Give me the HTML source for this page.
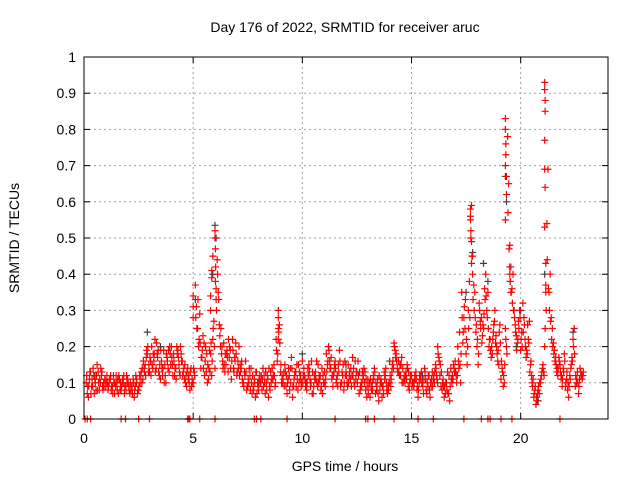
<!DOCTYPE html>
<html><head><meta charset="utf-8"><style>
html,body{margin:0;padding:0;background:#fff}
svg{display:block;font-family:"Liberation Sans",sans-serif}
</style></head><body>
<svg id="chart" width="640" height="480" viewBox="0 0 640 480">
<text x="345" y="32" text-anchor="middle" font-size="14">Day 176 of 2022, SRMTID for receiver aruc</text>
<text x="345" y="471" text-anchor="middle" font-size="14">GPS time / hours</text>
<text transform="translate(19,238) rotate(-90)" text-anchor="middle" font-size="14">SRMTID / TECUs</text>
<g id="grid"></g><g id="ticks"></g><g id="marks"></g>
<rect x="84" y="57" width="524" height="362" fill="none" stroke="#000" stroke-width="1"/>
</svg>
<script>
const xTicks=[0,5,10,15,20];
const yTicks=[0,0.1,0.2,0.3,0.4,0.5,0.6,0.7,0.8,0.9,1];
const yTickLabels=["0","0.1","0.2","0.3","0.4","0.5","0.6","0.7","0.8","0.9","1"];
const redAStart=0.1, redBStart=0.15, redCStart=0.12, redDStart=0.17, sampleStep=0.1;
const redA=[.10,.06,.13,.09,.11,.15,.08,.12,.10,.09,
.08,.11,.09,.07,.10,.12,.08,.10,.09,.11,
.07,.09,.06,.10,.08,.12,.11,.15,.18,.13,
.20,.16,.14,.19,.11,.12,.15,.17,.13,.20,
.18,.14,.19,.12,.16,.11,.09,.12,.14,.10,
.37,.25,.29,.17,.21,.13,.11,.18,.22,.14,
.44,.26,.18,.21,.15,.13,.19,.22,.17,.12,
.20,.14,.10,.16,.09,.12,.07,.11,.13,.08,
.10,.14,.07,.12,.09,.11,.15,.22,.30,.13,
.10,.15,.07,.12,.17,.09,.13,.08,.11,.16,
.12,.08,.15,.10,.07,.13,.09,.11,.14,.10,
.18,.20,.14,.09,.16,.12,.19,.10,.08,.13,
.15,.11,.17,.09,.13,.07,.10,.12,.08,.11,
.06,.10,.14,.08,.05,.11,.09,.12,.07,.10,
.13,.21,.18,.16,.12,.14,.10,.15,.08,.12,
.09,.13,.06,.11,.10,.14,.07,.12,.09,.11,
.15,.20,.12,.08,.06,.10,.07,.14,.11,.16,
.12,.24,.35,.28,.18,.30,.55,.45,.35,.20,
.32,.28,.25,.40,.35,.22,.18,.27,.20,.15,
.11,.09,.25,.78,.48,.36,.30,.23,.27,.19,
.32,.22,.18,.27,.12,.06,.04,.08,.10,.14,
.20,.54,.35,.28,.21,.17,.12,.15,.09,.18,
.11,.06,.14,.22,.09,.13,.11,.12];
const redB=[.07,.11,.09,.12,.08,.13,.10,.09,.11,.12,
.10,.08,.12,.09,.11,.08,.10,.07,.12,.09,
.08,.11,.09,.07,.12,.10,.14,.17,.13,.16,
.14,.22,.18,.12,.16,.19,.10,.14,.18,.15,
.12,.20,.15,.18,.13,.10,.14,.08,.11,.13,
.31,.20,.14,.23,.16,.10,.19,.12,.27,.33,
.35,.20,.16,.13,.19,.17,.11,.14,.21,.16,
.15,.11,.13,.08,.10,.14,.09,.06,.10,.12,
.08,.12,.10,.06,.13,.11,.09,.16,.26,.10,
.13,.09,.11,.14,.06,.12,.15,.10,.09,.12,
.09,.14,.11,.07,.12,.16,.10,.08,.12,.09,
.15,.16,.11,.13,.10,.15,.09,.12,.16,.10,
.12,.09,.14,.11,.16,.08,.13,.10,.06,.09,
.09,.12,.07,.11,.08,.06,.13,.10,.08,.09,
.16,.19,.14,.12,.17,.11,.13,.09,.12,.10,
.12,.08,.10,.13,.07,.11,.09,.06,.13,.10,
.12,.17,.09,.11,.07,.13,.05,.10,.14,.12,
.16,.10,.21,.25,.15,.38,.59,.37,.24,.15,
.27,.23,.36,.30,.20,.17,.24,.21,.16,.26,
.14,.10,.20,.65,.42,.40,.26,.21,.30,.24,
.28,.17,.22,.15,.09,.08,.05,.07,.12,.13,
.37,.69,.40,.25,.19,.13,.17,.11,.14,.09,
.08,.12,.17,.25,.10,.07,.13,.12];
const redC=[.12,.09,.07,.14,.10,.08,.11,.13,.09,.10,
.09,.12,.07,.10,.08,.11,.09,.12,.08,.10,
.10,.07,.08,.11,.09,.13,.16,.12,.20,.17,
.15,.18,.21,.13,.19,.14,.12,.16,.20,.17,
.16,.11,.17,.20,.12,.15,.13,.10,.09,.14,
.28,.33,.21,.19,.12,.18,.14,.21,.25,.38,
.40,.23,.20,.15,.18,.22,.14,.19,.16,.13,
.12,.16,.09,.13,.11,.08,.12,.10,.07,.11,
.12,.09,.13,.11,.08,.14,.12,.19,.24,.15,
.11,.13,.10,.08,.14,.11,.09,.15,.12,.10,
.11,.10,.13,.16,.09,.11,.15,.12,.07,.13,
.13,.19,.17,.12,.14,.09,.16,.13,.10,.12,
.10,.14,.12,.16,.10,.13,.09,.14,.11,.07,
.11,.08,.13,.09,.12,.10,.07,.14,.09,.12,
.15,.20,.16,.13,.15,.10,.12,.14,.10,.09,
.10,.11,.08,.12,.09,.13,.10,.08,.11,.12,
.14,.18,.15,.10,.09,.08,.12,.11,.15,.13,
.20,.15,.28,.31,.22,.25,.50,.33,.28,.22,
.30,.21,.29,.34,.25,.19,.22,.30,.18,.24,
.16,.12,.22,.57,.38,.32,.28,.19,.25,.22,
.24,.20,.26,.13,.10,.07,.06,.09,.11,.15,
.25,.44,.30,.22,.18,.15,.14,.13,.11,.16,
.13,.09,.15,.20,.12,.10,.14,.11];
const redD=[.09,.13,.11,.07,.12,.10,.14,.08,.11,.10,
.11,.09,.10,.12,.07,.10,.11,.09,.10,.08,
.09,.10,.12,.08,.10,.14,.13,.19,.15,.12,
.18,.13,.17,.15,.14,.10,.18,.19,.15,.12,
.14,.18,.13,.16,.14,.12,.11,.13,.10,.12,
.25,.22,.17,.14,.20,.15,.13,.16,.20,.30,
.33,.25,.14,.18,.17,.20,.16,.13,.18,.14,
.13,.10,.12,.09,.14,.10,.08,.13,.09,.10,
.11,.10,.08,.14,.10,.12,.10,.18,.21,.12,
.09,.12,.14,.10,.09,.13,.11,.13,.10,.14,
.10,.12,.09,.13,.11,.10,.12,.09,.10,.11,
.16,.14,.12,.15,.11,.13,.10,.15,.12,.09,
.13,.12,.10,.13,.12,.09,.11,.13,.09,.10,
.08,.11,.10,.07,.10,.09,.11,.08,.10,.11,
.14,.17,.13,.15,.10,.12,.11,.13,.11,.10,
.11,.09,.12,.10,.11,.08,.12,.10,.09,.13,
.11,.16,.13,.09,.10,.07,.09,.12,.13,.10,
.14,.18,.24,.33,.20,.28,.45,.30,.26,.18,
.25,.26,.33,.28,.22,.20,.26,.23,.19,.21,
.13,.15,.18,.47,.35,.30,.24,.22,.28,.20,
.26,.19,.21,.16,.11,.09,.07,.10,.13,.12,
.30,.36,.27,.20,.16,.14,.16,.12,.13,.10,
.10,.11,.16,.18,.11,.09,.12,.13];
const spikeT=[5.0,5.0,5.0,5.8,5.8,5.85,5.85,5.9,6.0,6.0,6.02,6.03,6.05,8.9,8.9,8.9,17.7,17.7,17.72,17.75,17.75,17.8,19.3,19.3,19.32,19.32,19.3,19.35,19.35,19.3,19.5,19.5,19.52,19.55,21.1,21.1,21.12,21.12,21.1,21.1,21.12,21.1,21.15,21.15];
const spikeV=[.34,.31,.28,.30,.34,.39,.41,.45,.52,.50,.47,.42,.36,.28,.25,.22,.58,.56,.52,.49,.43,.40,.83,.80,.76,.73,.70,.67,.62,.55,.42,.40,.38,.35,.93,.91,.88,.85,.77,.69,.64,.53,.43,.35];
const blackT=[0.5,2.9,3.5,5.1,5.9,6.0,6.05,8.0,10.0,12.0,14.0,15.5,16.2,17.5,17.8,18.3,18.5,19.3,19.35,19.8,20.0,20.8,21.1,22.4];
const blackV=[.12,.24,.20,.33,.40,.535,.50,.10,.18,.15,.16,.12,.10,.35,.46,.43,.38,.67,.60,.20,.30,.05,.40,.24];
const zeroT=[0.05,0.15,0.3,1.7,1.9,2.5,3.0,4.75,4.8,4.85,5.3,6.0,7.8,7.9,8.1,9.3,11.5,12.9,13.0,13.3,14.2,15.3,16.0,17.4,18.2,18.5,18.6,19.1,19.6,21.8];

const X0=84,X1=608,Y0=419,Y1=57,XMAX=24,YMAX=1;
const xs=t=>X0+(X1-X0)*t/XMAX;
const ys=v=>Y0-(Y0-Y1)*v/YMAX;
const NS="http://www.w3.org/2000/svg";
function mk(tag,attrs,parent){const e=document.createElementNS(NS,tag);for(const k in attrs)e.setAttribute(k,attrs[k]);parent.appendChild(e);return e;}
const grid=document.getElementById('grid'),ticks=document.getElementById('ticks'),marks=document.getElementById('marks');
yTicks.forEach((v,i)=>{
  const y=ys(v);
  if(i>0&&i<yTicks.length-1){const g=mk('line',{x1:X0,x2:X1,y1:y,y2:y,stroke:'#a0a0a0','stroke-dasharray':'2,3'},grid);
  
  }
  mk('line',{x1:X0,x2:X0+6,y1:y,y2:y,stroke:'#000'},ticks);
  mk('line',{x1:X1-6,x2:X1,y1:y,y2:y,stroke:'#000'},ticks);
  const t=mk('text',{x:X0-8,y:y+5,'text-anchor':'end','font-size':'14'},ticks);
  t.textContent=yTickLabels[i];
  
  
});
xTicks.forEach(h=>{
  const x=xs(h);
  if(h>0){const g=mk('line',{x1:x,x2:x,y1:Y0,y2:Y1,stroke:'#a0a0a0','stroke-dasharray':'2,3'},grid);
  
  }
  mk('line',{x1:x,x2:x,y1:Y0,y2:Y0-6,stroke:'#000'},ticks);
  mk('line',{x1:x,x2:x,y1:Y1,y2:Y1+6,stroke:'#000'},ticks);
  const t=mk('text',{x:x,y:Y0+24,'text-anchor':'middle','font-size':'14'},ticks);
  t.textContent=String(h);
  
  
});
function plus(t,v,color,name){
  const x=xs(t),y=ys(v);
  const p=mk('path',{d:`M${x-3.5},${y}h7M${x},${y-3.5}v7`,stroke:color,'stroke-width':'1.2',fill:'none'},marks);
  
  
}
blackV.forEach((v,i)=>plus(blackT[i],v,'#404040','black-point'));
redA.forEach((v,i)=>plus(redAStart+sampleStep*i,v,'#ff0000','red-point'));
redB.forEach((v,i)=>plus(redBStart+sampleStep*i,v,'#ff0000','red-point'));
redC.forEach((v,i)=>plus(redCStart+sampleStep*i,v,'#ff0000','red-point'));
redD.forEach((v,i)=>plus(redDStart+sampleStep*i,v,'#ff0000','red-point'));
spikeV.forEach((v,i)=>plus(spikeT[i],v,'#ff0000','red-spike-point'));
zeroT.forEach(t=>plus(t,0,'#ff0000','zero-point'));
</script>
</body></html>
